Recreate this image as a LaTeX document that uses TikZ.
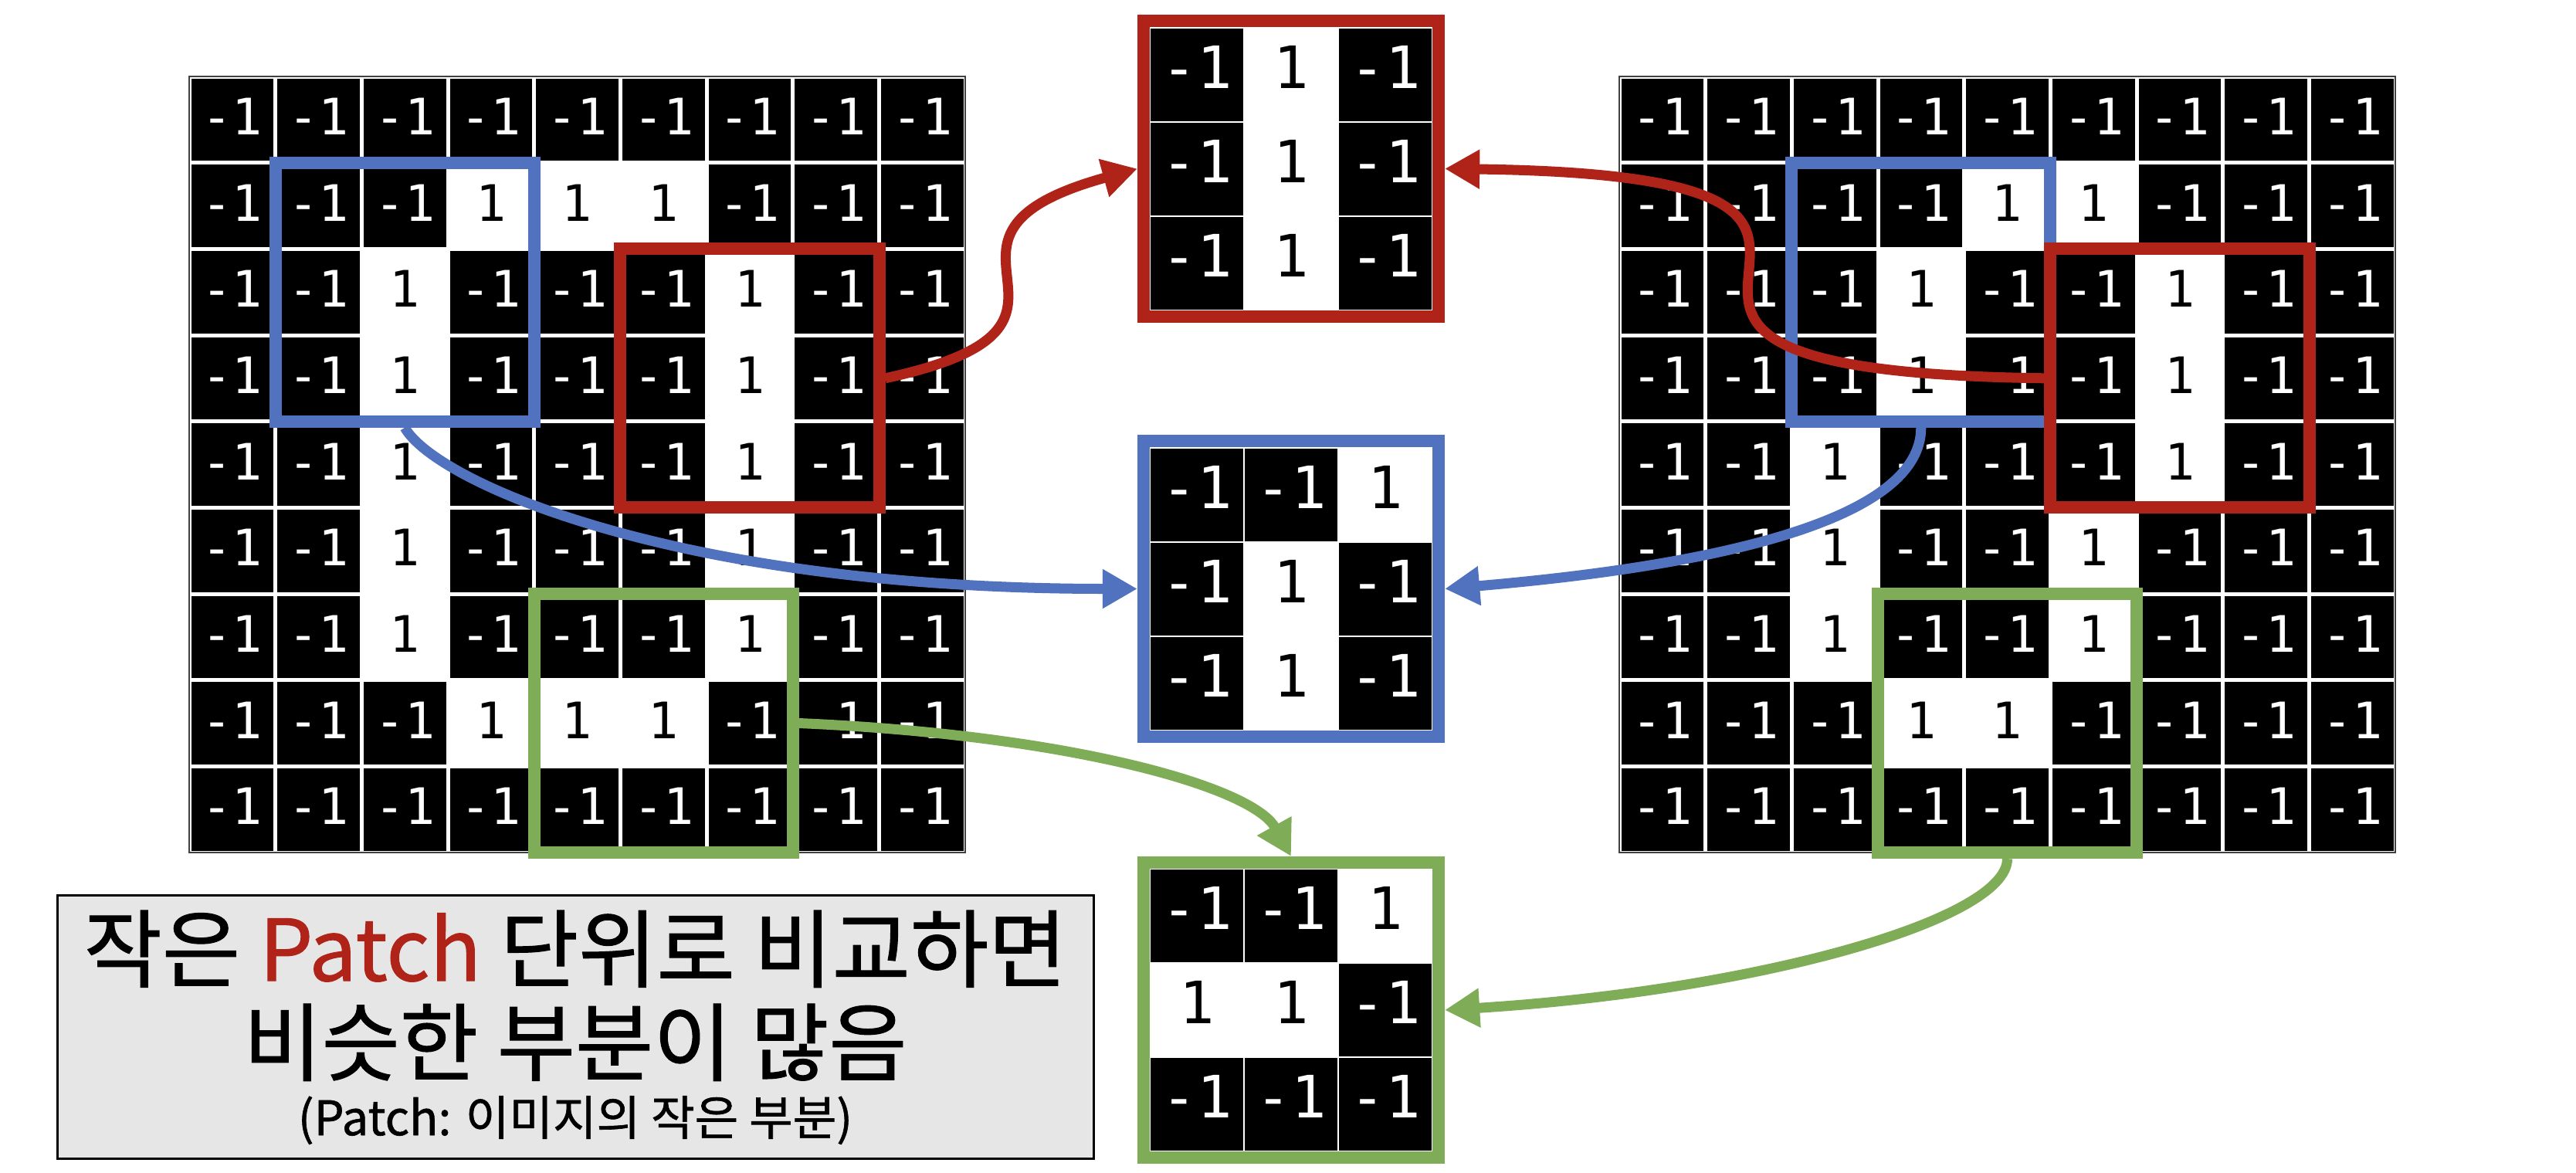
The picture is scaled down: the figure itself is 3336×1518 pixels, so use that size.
\documentclass[tikz,border=0pt]{standalone}
\usepackage{fontspec}
\setmainfont{Noto Sans CJK KR}
\newfontfamily\monofam{DejaVu Sans Mono}
\newfontfamily\krfont[FakeBold=1]{Noto Sans CJK KR}
\usetikzlibrary{arrows.meta}
\definecolor{cRed}{HTML}{AF2318}
\definecolor{cBlue}{HTML}{5172BE}
\definecolor{cGreen}{HTML}{7FAC56}
\definecolor{noteFill}{HTML}{E6E6E6}

% #1 prefix, #2 x0, #3 y0, #4 cell, #5 gap, #6 text style, #7 rows
\newcommand\cellgrid[7]{%
  \foreach \row [count=\r from 0] in {#7} {
    \foreach \v [count=\c from 0] in \row {
      \ifnum\v<0
        \fill[black] ({#2+\c*#4+#5},{#3+\r*#4+#5}) rectangle ({#2+(\c+1)*#4-#5},{#3+(\r+1)*#4-#5});
        \node[#6,text=white] (#1-\r-\c) at ({#2+(\c+0.5)*#4},{#3+(\r+0.5)*#4}) {-1};
      \else
        \node[#6,text=black] (#1-\r-\c) at ({#2+(\c+0.5)*#4},{#3+(\r+0.5)*#4}) {1};
      \fi
    }
  }%
}

\begin{document}
\begin{tikzpicture}[x=0.01cm,y=-0.01cm,
  numg/.style={font=\monofam\fontsize{18.5}{20}\selectfont, inner sep=0pt, yshift=0.04cm},
  nump/.style={font=\monofam\fontsize{21.5}{23}\selectfont, inner sep=0pt, yshift=0.10cm},
  hl/.style={draw=#1, line width=0.16cm, minimum size=3.35cm, inner sep=0pt},
  pbox/.style={draw=#1, line width=0.16cm, minimum size=3.82cm, inner sep=0pt},
  link/.style={draw=#1, line width=0.13cm, -{Triangle[length=0.45cm,width=0.48cm]}},
  gridedge/.style={draw=black!75, line width=0.02cm},
]
\useasboundingbox (0,0) rectangle (3336,1518);

% left grid
\cellgrid{L}{245}{99}{111.67}{2.5}{numg}{
 {-1,-1,-1,-1,-1,-1,-1,-1,-1},
 {-1,-1,-1,1,1,1,-1,-1,-1},
 {-1,-1,1,-1,-1,-1,1,-1,-1},
 {-1,-1,1,-1,-1,-1,1,-1,-1},
 {-1,-1,1,-1,-1,-1,1,-1,-1},
 {-1,-1,1,-1,-1,-1,1,-1,-1},
 {-1,-1,1,-1,-1,-1,1,-1,-1},
 {-1,-1,-1,1,1,1,-1,-1,-1},
 {-1,-1,-1,-1,-1,-1,-1,-1,-1}}
\draw[gridedge] (245,99) rectangle (1250,1104);

% right grid
\cellgrid{R}{2097}{99}{111.67}{2.5}{numg}{
 {-1,-1,-1,-1,-1,-1,-1,-1,-1},
 {-1,-1,-1,-1,1,1,-1,-1,-1},
 {-1,-1,-1,1,-1,-1,1,-1,-1},
 {-1,-1,-1,1,-1,-1,1,-1,-1},
 {-1,-1,1,-1,-1,-1,1,-1,-1},
 {-1,-1,1,-1,-1,1,-1,-1,-1},
 {-1,-1,1,-1,-1,1,-1,-1,-1},
 {-1,-1,-1,1,1,-1,-1,-1,-1},
 {-1,-1,-1,-1,-1,-1,-1,-1,-1}}
\draw[gridedge] (2097,99) rectangle (3102,1104);

% highlight boxes on the grids
\node[hl=cBlue] (lblue) at (524.2,378.2) {};
\node[hl=cRed] (lred) at (970.9,489.8) {};
\node[hl=cGreen] (lgreen) at (859.2,936.5) {};
\node[hl=cBlue] (rblue) at (2487.8,378.2) {};
\node[hl=cRed] (rred) at (2822.9,489.8) {};
\node[hl=cGreen] (rgreen) at (2599.5,936.5) {};

% patches
\cellgrid{PR}{1489}{35.5}{122}{1}{nump}{{-1,1,-1},{-1,1,-1},{-1,1,-1}}
\node[pbox=cRed] (pred) at (1672,218.5) {};
\cellgrid{PB}{1489}{579.5}{122}{1}{nump}{{-1,-1,1},{-1,1,-1},{-1,1,-1}}
\node[pbox=cBlue] (pblue) at (1672,762.5) {};
\cellgrid{PG}{1489}{1125}{122}{1}{nump}{{-1,-1,1},{1,1,-1},{-1,-1,-1}}
\node[pbox=cGreen] (pgreen) at (1672,1308) {};

% connectors
\draw[link=cRed] (lred.east) .. controls +(325,-70) and +(-325,90) .. (pred.west);
\draw[link=cRed] (rred.west) .. controls +(-778,-10) and +(778,10) .. (pred.east);
\draw[link=cBlue] (lblue.south) .. controls +(40,70) and +(-600,0) .. (pblue.west);
\draw[link=cBlue] (rblue.south) .. controls +(0,120) and +(350,-30) .. (pblue.east);
\draw[link=cGreen] (lgreen.east) .. controls +(350,15) and +(-50,-90) .. (pgreen.north);
\draw[link=cGreen] (rgreen.south) .. controls +(0,80) and +(400,-25) .. (pgreen.east);

% note box
\node[draw=black, line width=0.03cm, fill=noteFill, minimum width=13.41cm, minimum height=3.40cm, inner sep=0pt] (note) at (745.5,1330) {};
\node[anchor=base, inner sep=0pt, font=\krfont\fontsize{31.3}{33}\selectfont] (t1) at (745,1270) {작은 \textcolor{cRed}{Patch} 단위로 비교하면};
\node[anchor=base, inner sep=0pt, font=\krfont\fontsize{31.3}{33}\selectfont] (t2) at (745,1391) {비슷한 부분이 많음};
\node[anchor=base, inner sep=0pt, font=\krfont\fontsize{17.5}{19}\selectfont] (t3) at (745,1470) {(Patch: 이미지의 작은 부분)};
\end{tikzpicture}
\end{document}
